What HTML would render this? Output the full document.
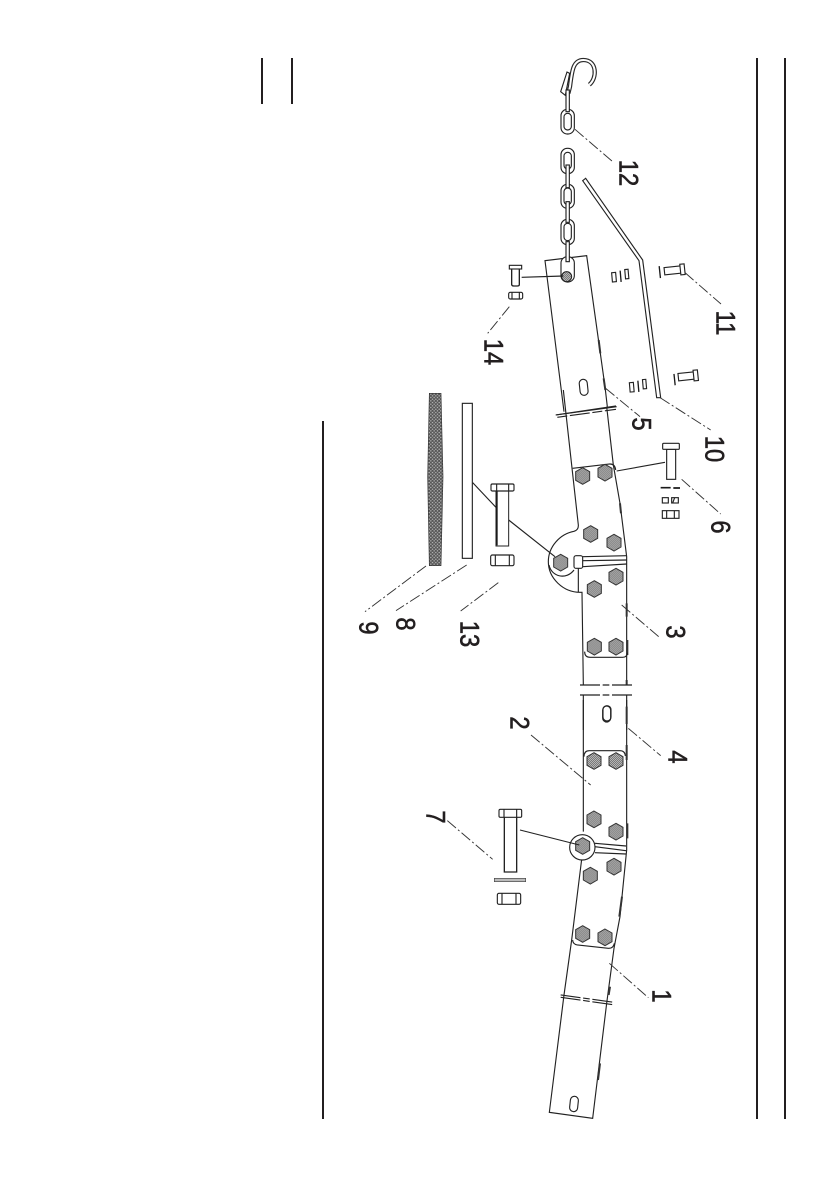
<!DOCTYPE html>
<html>
<head>
<meta charset="utf-8">
<style>
html,body{margin:0;padding:0;background:#fff;width:840px;height:1192px;overflow:hidden}
svg{display:block}
text{font-family:"Liberation Sans",Arial,sans-serif;font-size:27px;fill:#231f20;stroke:#231f20;stroke-width:.6;text-anchor:middle}
.l{fill:none;stroke:#222;stroke-width:3.4}
.w{fill:#fff;stroke:#222;stroke-width:3.4}
.t{fill:none;stroke:#1a1a1a;stroke-width:7}
.d{fill:none;stroke:#333;stroke-width:2.8;stroke-dasharray:34 8 6 8}
.s{fill:none;stroke:#333;stroke-width:3}
</style>
</head>
<body>
<svg width="840" height="1192" viewBox="0 0 840 1192" xmlns="http://www.w3.org/2000/svg">
<defs>
<pattern id="sp" width="6" height="6" patternUnits="userSpaceOnUse">
<rect width="6" height="6" fill="#b4b4b4"/>
<circle cx="1.5" cy="1.5" r="1.5" fill="#666"/>
<circle cx="4.5" cy="4.5" r="1.5" fill="#666"/>
</pattern>
<g id="h">
<polygon points="0,-25 21,-13 21,13 0,25 -21,13 -21,-13" fill="url(#sp)" stroke="#333" stroke-width="3"/>
</g>
<pattern id="mesh" width="10" height="10" patternUnits="userSpaceOnUse">
<rect width="10" height="10" fill="#555"/>
<circle cx="2.5" cy="2.5" r="2.2" fill="#bbb"/>
<circle cx="7.5" cy="7.5" r="2.2" fill="#bbb"/>
</pattern>
</defs>

<!-- page rules -->
<g fill="#231f20">
<rect x="261" y="58" width="2" height="46"/>
<rect x="291" y="58" width="2" height="46"/>
<rect x="322" y="421" width="2" height="698"/>
<rect x="756" y="58" width="2" height="1061"/>
<rect x="784" y="58" width="2" height="1061"/>
</g>

<!-- top section : zoom 1 coordinates -->
<g transform="translate(420,50) scale(.33333)">
<!-- hook -->
<path d="M508,104 C532,85 532,30 490,30 C460,30 456,60 450,110 L445,130" fill="none" stroke="#2a2a2a" stroke-width="13"/>
<path d="M508,104 C532,85 532,30 490,30 C460,30 456,60 450,110 L445,130" fill="none" stroke="#fff" stroke-width="6"/>
<polygon class="w" points="422,125 441,66 449,70 436,136"/>
<!-- chain -->
<g class="w">
<rect x="423" y="178" width="40" height="74" rx="19"/><rect x="432" y="190" width="22" height="50" rx="11"/>
<rect x="423" y="295" width="40" height="76" rx="19"/><rect x="432" y="307" width="22" height="50" rx="11"/>
<rect x="423" y="403" width="40" height="72" rx="19"/><rect x="432" y="414" width="22" height="50" rx="11"/>
<rect x="423" y="508" width="40" height="76" rx="19"/><rect x="432" y="520" width="22" height="52" rx="11"/>
</g>
<rect class="w" x="438" y="120" width="10" height="65"/>
<rect class="w" x="438" y="345" width="10" height="68"/>
<rect class="w" x="438" y="455" width="10" height="62"/>
<!-- band 5 -->
<path class="l" d="M432,1085 L375,632 L500,617 L555,1010 L562,1070"/>
<path class="s" style="stroke-width:6" d="M536,870 L541,910 M551,985 L556,1020"/>
<rect class="w" x="423" y="620" width="40" height="76" rx="19"/>
<rect class="w" x="438" y="575" width="10" height="60"/>
<circle cx="440" cy="680" r="15" fill="url(#sp)" stroke="#222" stroke-width="3"/>
<rect x="479" y="988" width="24" height="48" rx="12" class="l" transform="rotate(-6 491 1012)"/>
<path class="l" d="M408,1095 L588,1068"/>
<path class="l" d="M412,1102 L588,1078" stroke-dasharray="30 8 60 8"/>
<!-- bar 10 -->
<path class="w" d="M488,392 L497,385 L668,630 L722,1043 L710,1043 L657,632 Z"/>
<!-- bolts 11 -->
<g transform="rotate(-6 760 660)">
<rect class="w" x="733" y="650" width="50" height="22"/><rect class="w" x="781" y="645" width="13" height="32"/>
<path class="t" style="stroke-width:4" d="M719,644 L719,680"/>
</g>
<g transform="rotate(-6 800 980)">
<rect class="w" x="775" y="968" width="48" height="22"/><rect class="w" x="821" y="963" width="13" height="32"/>
<path class="t" style="stroke-width:4" d="M763,968 L763,1002"/>
</g>
<!-- small hardware -->
<g transform="rotate(-5 600 680)">
<rect class="w" x="576" y="666" width="12" height="28"/>
<path class="t" style="stroke-width:4" d="M602,662 L602,696"/>
<rect class="w" x="616" y="660" width="10" height="28"/>
</g>
<g transform="rotate(-5 655 1008)">
<rect class="w" x="629" y="996" width="12" height="28"/>
<path class="t" style="stroke-width:4" d="M655,992 L655,1026"/>
<rect class="w" x="669" y="990" width="10" height="28"/>
</g>
<!-- bolt 14 -->
<rect class="w" x="268" y="646" width="37" height="11"/>
<path class="l" style="stroke-width:4" d="M275,657 L275,704 Q276,708 282,708 L292,708 Q298,708 298,704 L298,657"/>
<path class="l" d="M305,682 L430,678"/>
<rect class="w" x="266" y="727" width="42" height="20" rx="5"/>
<path class="l" d="M276,727 V747 M298,727 V747"/>
<!-- leaders -->
<path class="d" d="M465,238 L578,335"/>
<path class="d" d="M795,668 L903,762"/>
<path class="d" d="M268,770 L203,850"/>
<path class="d" d="M557,1015 L660,1100"/>
<path class="d" d="M720,1043 L872,1140"/>
</g>

<!-- middle section : zoom 2 coordinates -->
<g transform="translate(350,390) scale(.33333)">
<!-- band -->
<path class="l" d="M640,0 L685,405 Q686,420 672,424 C630,432 595,470 595,515 C595,565 640,607 690,607 L696,607 L700,885"/>
<path class="l" d="M770,50 L790,225 L810,340 L830,500 L830,885"/>
<path class="s" style="stroke-width:6" d="M810,340 L813,370 M830,640 V680 M832,750 V795 M830,870 V885"/>
<!-- pivot -->
<path class="l" d="M597,525 C605,562 650,570 672,540"/>
<path class="l" d="M685,535 V607"/>
<rect x="672" y="497" width="26" height="38" rx="6" class="w"/>
<path class="l" d="M698,500 L830,497 M698,512 L830,510 M698,530 L830,522"/>
<!-- plates -->
<path class="l" d="M668,235 L780,222 Q795,222 797,240"/>
<path class="l" d="M704,785 Q704,802 720,802 L818,802 Q832,802 832,788"/>
<!-- bolts -->
<use href="#h" x="698" y="258"/><use href="#h" x="765" y="248"/>
<use href="#h" x="722" y="432"/><use href="#h" x="792" y="458"/>
<use href="#h" x="798" y="560"/><use href="#h" x="733" y="597"/>
<use href="#h" x="733" y="770"/><use href="#h" x="798" y="770"/>
<use href="#h" x="632" y="518"/>
<!-- breaks -->
<path class="l" d="M617,75 L800,50"/>
<path class="l" d="M690,885 H850" stroke-dasharray="60 8 20 8"/>
<path class="l" d="M690,915 H850" stroke-dasharray="60 8 20 8"/>
<path class="l" d="M700,915 V1020 M830,915 V1020"/>
<rect class="l" x="758" y="948" width="24" height="48" rx="12"/>
<!-- strips -->
<path d="M238,10 H273 L279,260 L273,527 H238 L233,260 Z" fill="url(#mesh)" stroke="#333" stroke-width="2"/>
<rect class="w" x="337" y="40" width="30" height="465"/>
<!-- bolt 13 -->
<path class="l" d="M368,278 L438,352 M476,390 L615,500"/>
<path d="M438,303 V468 H476 V303" fill="#fff" stroke="#222" stroke-width="3"/>
<path class="t" style="stroke-width:6" d="M440,303 V466"/>
<rect class="w" x="423" y="282" width="69" height="21" rx="4"/>
<path class="l" d="M440,282 V303 M476,282 V303"/>
<rect class="w" x="422" y="495" width="70" height="32" rx="5"/>
<path class="l" d="M436,495 V527 M478,495 V527"/>
<!-- bolt 6 -->
<rect class="w" x="950" y="178" width="27" height="90"/>
<rect class="w" x="938" y="160" width="50" height="18" rx="3"/>
<path class="l" d="M800,243 L945,217"/>
<path class="t" style="stroke-width:5" d="M932,293 H962 M970,294 H990"/>
<rect class="w" x="937" y="323" width="18" height="16"/><rect class="w" x="965" y="323" width="20" height="16"/>
<path class="l" d="M974,323 L968,339"/>
<rect class="w" x="937" y="362" width="50" height="23"/>
<path class="l" d="M950,362 V385 M973,362 V385"/>
<!-- leaders -->
<path class="d" d="M228,528 L45,665"/>
<path class="d" d="M350,525 L138,662"/>
<path class="d" d="M445,578 L332,663"/>
<path class="d" d="M815,645 L932,745"/>
<path class="d" d="M995,268 L1112,372"/>
</g>

<!-- lower section : zoom 3 coordinates -->
<g transform="translate(420,700) scale(.33333)">
<path class="l" d="M490,0 V395"/>
<path class="l" d="M620,0 V450 L600,650 L582,745 L560,910 L518,1255 L388,1237 L432,885 L455,720 L485,478"/>
<path class="s" style="stroke-width:6" d="M620,20 V72 M620,135 V180 M622,370 V415 M606,590 L598,650 M570,860 L566,885 M540,1090 L534,1140"/>
<rect class="l" x="549" y="17" width="24" height="46" rx="12"/>
<rect class="l" x="450" y="1189" width="24" height="46" rx="12" transform="rotate(6 462 1212)"/>
<!-- pivot -->
<circle cx="487" cy="442" r="38" class="w"/>
<path class="l" d="M525,430 L618,438 M525,440 L618,452 M525,458 L618,462"/>
<!-- plates -->
<path class="l" d="M492,170 Q492,152 508,152 L600,152 Q615,152 616,168"/>
<path class="l" d="M458,720 Q458,732 472,735 L565,745 Q580,746 583,730"/>
<!-- bolts -->
<use href="#h" x="522" y="183"/><use href="#h" x="588" y="183"/>
<use href="#h" x="522" y="358"/><use href="#h" x="588" y="395"/>
<use href="#h" x="582" y="500"/><use href="#h" x="511" y="527"/>
<use href="#h" x="488" y="702"/><use href="#h" x="555" y="712"/>
<use href="#h" x="488" y="438"/>
<!-- breaks -->
<path class="l" d="M422,885 L582,907" stroke-dasharray="60 8 20 8"/>
<path class="l" d="M422,892 L578,914" stroke-dasharray="60 8 20 8"/>
<!-- bolt 7 -->
<path d="M253,352 V516 H290 V352" fill="#fff" stroke="#222" stroke-width="4"/>
<rect class="w" x="237" y="328" width="68" height="24" rx="4"/>
<path class="l" d="M252,328 V352 M290,328 V352"/>
<path class="l" d="M300,390 L478,435"/>
<rect x="223" y="535" width="94" height="10" fill="#bbb" stroke="#444" stroke-width="2"/>
<rect class="w" x="232" y="580" width="70" height="33" rx="5"/>
<path class="l" d="M246,580 V613 M288,580 V613"/>
<!-- leaders -->
<path class="d" d="M82,362 L218,478"/>
<path class="d" d="M333,105 L512,255"/>
<path class="d" d="M625,85 L722,167"/>
<path class="d" d="M568,790 L685,893"/>
</g>

<!-- labels -->
<g>
<text transform="translate(629,173) rotate(90) scale(.88,1)" dy=".36em">12</text>
<text transform="translate(726,323) rotate(90) scale(.88,1)" dy=".36em">11</text>
<text transform="translate(494,352) rotate(90) scale(.88,1)" dy=".36em">14</text>
<text transform="translate(642,424) rotate(90) scale(.88,1)" dy=".36em">5</text>
<text transform="translate(715,449) rotate(90) scale(.88,1)" dy=".36em">10</text>
<text transform="translate(721,527) rotate(90) scale(.88,1)" dy=".36em">6</text>
<text transform="translate(676,632) rotate(90) scale(.88,1)" dy=".36em">3</text>
<text transform="translate(470,634) rotate(90) scale(.88,1)" dy=".36em">13</text>
<text transform="translate(406,624) rotate(90) scale(.88,1)" dy=".36em">8</text>
<text transform="translate(369,628) rotate(90) scale(.88,1)" dy=".36em">9</text>
<text transform="translate(520,723) rotate(90) scale(.88,1)" dy=".36em">2</text>
<text transform="translate(678,757) rotate(90) scale(.88,1)" dy=".36em">4</text>
<text transform="translate(436,817) rotate(90) scale(.88,1)" dy=".36em">7</text>
<text transform="translate(662,996) rotate(90) scale(.88,1)" dy=".36em">1</text>
</g>
</svg>
</body>
</html>
